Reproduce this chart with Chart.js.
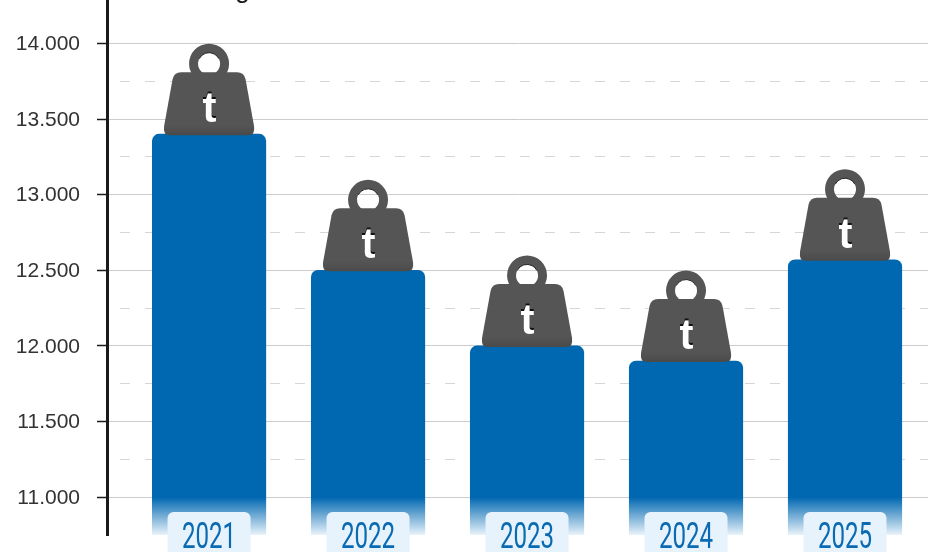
<!DOCTYPE html>
<html lang="it">
<head>
    <meta charset="UTF-8">
    <title>Tonnellate per anno</title>
    <script src="https://cdn.jsdelivr.net/npm/chart.js"></script>
    <style>
        html, body { margin: 0; padding: 0; background: #fff; overflow: hidden; }
        canvas { display: block; }
    </style>
</head>
<body>
    <canvas id="grafico" width="928" height="552"></canvas>

    <script>
        const anni = [2021, 2022, 2023, 2024, 2025];
        const tonnellate = [13400, 12500, 12000, 11900, 12570];
        const tickPrincipali = [11000, 11500, 12000, 12500, 13000, 13500, 14000];
        const tickSecondari = [11250, 11750, 12250, 12750, 13250, 13750];

        const BLU = '#0067b1';

        // peso con anello e lettera "t" appoggiato sopra ogni barra
        function disegnaPeso(ctx, cx, top) {
            const fondo = top + 1;
            ctx.save();
            ctx.fillStyle = '#555555';

            ctx.beginPath();
            ctx.arc(cx, top - 70.5, 20, 0, Math.PI * 2);
            ctx.arc(cx, top - 70.5, 11, 0, Math.PI * 2, true);
            ctx.fill('evenodd');

            // bordo scuro interno dell'anello
            ctx.strokeStyle = '#222222';
            ctx.lineWidth = 1;
            ctx.beginPath();
            ctx.arc(cx, top - 70.5, 11, Math.PI * 1.15, Math.PI * 1.85);
            ctx.stroke();

            const grad = ctx.createLinearGradient(0, fondo - 10, 0, fondo);
            grad.addColorStop(0, '#555555');
            grad.addColorStop(1, '#4a4a4a');
            ctx.fillStyle = grad;
            ctx.beginPath();
            ctx.moveTo(cx - 28, top - 62);
            ctx.lineTo(cx + 28, top - 62);
            ctx.quadraticCurveTo(cx + 35, top - 62, cx + 36.5, top - 55);
            ctx.lineTo(cx + 45, top - 8);
            ctx.quadraticCurveTo(cx + 46, fondo, cx + 40, fondo);
            ctx.lineTo(cx - 40, fondo);
            ctx.quadraticCurveTo(cx - 46, fondo, cx - 45, top - 8);
            ctx.lineTo(cx - 36.5, top - 55);
            ctx.quadraticCurveTo(cx - 35, top - 62, cx - 28, top - 62);
            ctx.closePath();
            ctx.fill();

            ctx.font = 'bold 42px "Liberation Sans"';
            ctx.textAlign = 'center';
            ctx.textBaseline = 'alphabetic';
            ctx.fillStyle = '#111111';
            ctx.fillText('t', cx + 0.5, top - 14);
            ctx.fillStyle = '#ffffff';
            ctx.fillText('t', cx + 0.5, top - 12);
            ctx.restore();
        }

        const pesi = {
            id: 'pesi',
            afterDatasetsDraw(chart) {
                const { ctx, scales } = chart;
                anni.forEach((anno, i) => {
                    disegnaPeso(ctx, scales.x.getPixelForValue(anno), scales.y.getPixelForValue(tonnellate[i]));
                });
            }
        };

        // etichette degli anni su fondo azzurro, a cavallo della sfumatura delle barre
        const etichetteAnni = {
            id: 'etichetteAnni',
            afterDraw(chart) {
                const { ctx, scales } = chart;
                anni.forEach(anno => {
                    const cx = scales.x.getPixelForValue(anno);
                    ctx.save();
                    ctx.fillStyle = '#e6f3fc';
                    ctx.beginPath();
                    ctx.roundRect(cx - 41.5, 512, 83, 50, 6);
                    ctx.fill();

                    ctx.translate(cx, 548);
                    ctx.scale(0.67, 1);
                    ctx.font = '400 36px Roboto';
                    ctx.textAlign = 'center';
                    ctx.fillStyle = '#0a6ab2';
                    ctx.fillText(String(anno), 0, 0);
                    ctx.restore();
                });
            }
        };

        // coda del titolo tagliato dal bordo superiore
        const titoloTagliato = {
            id: 'titoloTagliato',
            afterDraw(chart) {
                const { ctx } = chart;
                ctx.save();
                ctx.font = '26px "Liberation Sans"';
                ctx.fillStyle = '#1a1a1a';
                ctx.textAlign = 'center';
                ctx.fillText('g', 242.5, -2.5);
                ctx.restore();
            }
        };

        new Chart(document.getElementById('grafico'), {
            type: 'bar',
            data: {
                datasets: [{
                    data: anni.map((anno, i) => ({ x: anno, y: tonnellate[i] })),
                    barThickness: 113.5,
                    borderRadius: { topLeft: 7, topRight: 7, bottomLeft: 0, bottomRight: 0 },
                    borderSkipped: false,
                    backgroundColor(context) {
                        const { ctx, chartArea, scales } = context.chart;
                        if (!chartArea) return BLU;
                        const inizio = scales.y.getPixelForValue(11000);
                        const grad = ctx.createLinearGradient(0, inizio, 0, chartArea.bottom);
                        grad.addColorStop(0, BLU);
                        grad.addColorStop(1, '#e9f3fa');
                        return grad;
                    }
                }]
            },
            plugins: [pesi, etichetteAnni, titoloTagliato],
            options: {
                responsive: false,
                animation: false,
                events: [],
                layout: { padding: { left: 0, right: 0, top: 0, bottom: 17 } },
                plugins: {
                    legend: { display: false },
                    title: { display: false },
                    tooltip: { enabled: false }
                },
                scales: {
                    x: {
                        type: 'linear',
                        display: false,
                        offset: false,
                        min: 2020.358,
                        max: 2025.522
                    },
                    y: {
                        min: 10750,
                        max: 14287,
                        afterFit(scale) {
                            scale.width = 107;
                            scale.paddingTop = 0;
                            scale.paddingBottom = 0;
                        },
                        afterBuildTicks(scale) {
                            scale.ticks = [...tickPrincipali, ...tickSecondari]
                                .sort((a, b) => a - b)
                                .map(value => ({ value }));
                        },
                        border: {
                            display: true,
                            color: '#1a1a1a',
                            width: 3,
                            dash: ctx => tickSecondari.includes(ctx.tick && ctx.tick.value) ? [10, 15] : [],
                            dashOffset: 14
                        },
                        grid: {
                            color: ctx => tickSecondari.includes(ctx.tick.value) ? '#d6d6d6' : '#cccccc',
                            lineWidth: 1,
                            tickLength: 10,
                            tickColor: ctx => tickSecondari.includes(ctx.tick.value) ? 'rgba(0,0,0,0)' : '#1a1a1a',
                            tickWidth: 1.5
                        },
                        ticks: {
                            autoSkip: false,
                            padding: 17,
                            labelOffset: 1,
                            color: '#333333',
                            font: { family: '"Liberation Sans"', size: 21 },
                            callback: value => tickPrincipali.includes(value)
                                ? value.toLocaleString('it-IT', { useGrouping: true }).replace(',', '.')
                                : ''
                        }
                    }
                }
            }
        });
    </script>
</body>
</html>
